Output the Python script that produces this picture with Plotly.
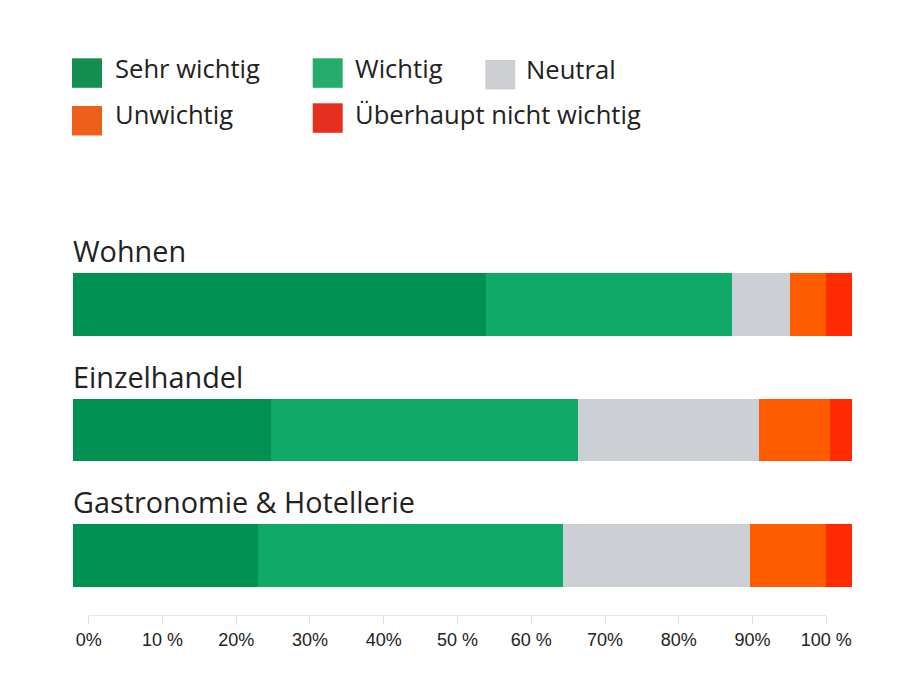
import plotly.graph_objects as go

# ---------------- data ----------------
categories = ["Wohnen", "Einzelhandel", "Gastronomie & Hotellerie"]
series_names = ["Sehr wichtig", "Wichtig", "Neutral", "Unwichtig", "Überhaupt nicht wichtig"]
sehr_wichtig = [53.0, 25.4, 23.8]
wichtig = [31.6, 39.5, 39.1]
neutral = [7.4, 23.2, 24.0]
unwichtig = [4.6, 9.1, 9.8]
ueberhaupt_nicht = [3.4, 2.8, 3.3]
tick_values = [0, 10, 20, 30, 40, 50, 60, 70, 80, 90, 100]
tick_labels = ["0%", "10 %", "20%", "30%", "40%", "50 %", "60 %", "70%", "80%", "90%", "100 %"]

# ---------------- style ----------------
W, H = 900, 686
OFF = 8  # page body margin
bar_colors = ["#009051", "#10AA68", "#CCCFD3", "#FF5C00", "#FF2A00"]
legend_colors = ["#138F50", "#25AC6B", "#CDCFD3", "#EE5F1C", "#E5301F"]
text_color = "#222222"
label_font = "Open Sans"


def px_x(p):
    return (p - OFF) / W


def px_y(p):
    return 1 - (p - OFF) / H


series_values = [sehr_wichtig, wichtig, neutral, unwichtig, ueberhaupt_nicht]

fig = go.Figure()
for name, vals, col in zip(series_names, series_values, bar_colors):
    fig.add_trace(go.Bar(
        y=categories, x=vals, name=name, orientation="h",
        marker=dict(color=col, line=dict(width=0)),
        width=0.5, showlegend=False, hoverinfo="x+name",
    ))

# invisible trace so the decorative percentage axis is drawn
fig.add_trace(go.Scatter(x=[tick_values[0], tick_values[-1]], y=[0, 0], mode="none",
                         xaxis="x2", yaxis="y2", showlegend=False, hoverinfo="skip"))

# ---------------- legend (manual) ----------------
legend_items = [
    # (square x0, square y0, text x, text center y)
    (72, 58.3, 114.5, 68.3),
    (312.7, 58.3, 354.5, 68.3),
    (485.3, 60, 526, 69.6),
    (72, 106, 114.5, 114.3),
    (312.7, 103.3, 354.5, 114.3),
]
shapes = []
annotations = []
for name, col, (sx, sy, tx, ty) in zip(series_names, legend_colors, legend_items):
    shapes.append(dict(type="rect", xref="paper", yref="paper",
                       x0=px_x(sx), x1=px_x(sx + 30), y0=px_y(sy + 29.5), y1=px_y(sy),
                       fillcolor=col, line=dict(width=0)))
    annotations.append(dict(xref="paper", yref="paper", x=px_x(tx), y=px_y(ty),
                            text=name, showarrow=False, xanchor="left", yanchor="middle",
                            borderpad=0, borderwidth=0,
                            font=dict(family=label_font, size=25.6, color=text_color)))

# category labels above bars
for i, cat in enumerate(categories):
    annotations.append(dict(xref="paper", yref="y", x=px_x(72.5), y=i - 0.43,
                            text=cat, showarrow=False, xanchor="left", yanchor="middle",
                            borderpad=0, borderwidth=0,
                            font=dict(family=label_font, size=28.8, color=text_color)))

# y range so that bar centres sit at 304.7 / 430 / 555.3 px (pitch 125.3 px)
pitch = 125.3
top_val = -(304.7 - OFF) / pitch
bot_val = top_val + H / pitch

fig.update_layout(
    width=W, height=H,
    margin=dict(l=0, r=0, t=0, b=0, autoexpand=False),
    paper_bgcolor="white", plot_bgcolor="white",
    barmode="stack",
    xaxis=dict(domain=[px_x(72.7), px_x(852)], range=[0, 100], visible=False, fixedrange=True),
    yaxis=dict(type="category", categoryorder="array", categoryarray=categories,
               range=[bot_val, top_val], visible=False, fixedrange=True),
    xaxis2=dict(domain=[px_x(88.7), px_x(826.3)], anchor="y2", range=[0, 100],
                tickmode="array", tickvals=tick_values, ticktext=tick_labels,
                ticks="outside", ticklen=8, tickcolor="#e0e0e0", tickwidth=1,
                showline=True, linecolor="#e5e5e5", linewidth=1,
                showgrid=False, zeroline=False, fixedrange=True,
                tickfont=dict(family="Liberation Sans", size=18, color=text_color)),
    yaxis2=dict(domain=[px_y(615), px_y(600)], range=[0, 1], visible=False, fixedrange=True),
    shapes=shapes,
    annotations=annotations,
    showlegend=False,
)

fig.write_html("out.html")
